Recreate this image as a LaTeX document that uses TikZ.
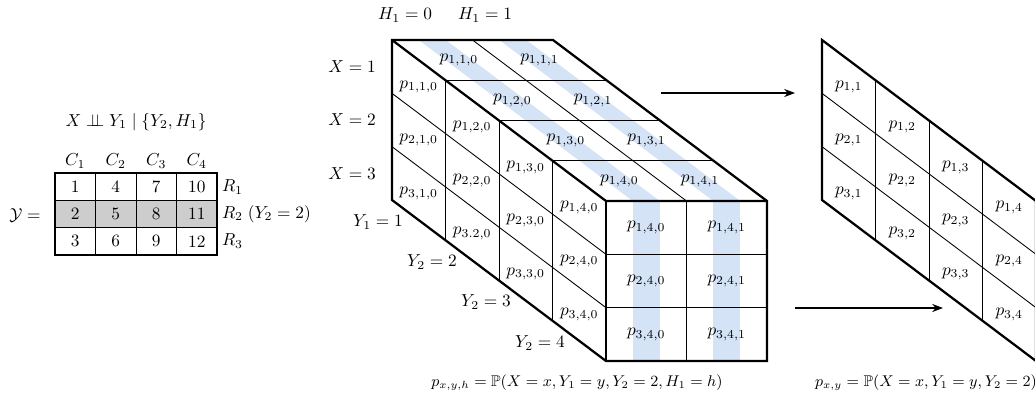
\documentclass[tikz,border=0pt]{standalone}
\usepackage{amsmath,amssymb}
\usetikzlibrary{arrows.meta,positioning}
\definecolor{stripeblue}{RGB}{213,227,247}
\definecolor{rowgray}{RGB}{205,205,205}

\begin{document}
\begin{tikzpicture}[
            x=0.0203cm, y=-0.0203cm,
            edgeline/.style={line width=1.3pt,line join=miter},
            gridline/.style={line width=0.5pt},
            band/.style={fill=stripeblue,draw=none},
            cell/.style={inner sep=0pt},
            tag/.style={inner sep=1pt},
            caption/.style={inner sep=1pt,font=\small},
            arrow/.style={-{Stealth[length=2.2mm]},semithick}
        ]
            \useasboundingbox (0,0) rectangle (1035,400);

            % table of Y
            \node[tag] (indep) at (136,122) {$X \perp\!\!\!\perp Y_1 \mid \{Y_2, H_1\}$};
            \node[tag] (ycal) at (25,215) {$\mathcal{Y} =$};
            \fill[rowgray] (55,200.3) rectangle (217,227.6);
            \foreach \c in {1,...,4} {
                \node[tag] (col\c) at ({55+40.5*(\c-0.5)},161) {$C_\c$};
                \foreach \r in {1,2,3} {
                    \pgfmathtruncatemacro{\v}{3*(\c-1)+\r}
                    \node[cell] (t\r\c) at ({55+40.5*(\c-0.5)},{173+27.3*(\r-0.5)}) {\v};
                }
            }
            \foreach \c in {1,2,3} \draw[gridline] ({55+40.5*\c},173) -- ({55+40.5*\c},255);
            \foreach \r in {1,2} \draw[gridline] (55,{173+27.3*\r}) -- (217,{173+27.3*\r});
            \draw[edgeline] (55,173) rectangle (217,255);
            \node[tag,anchor=west] (row1) at (220,187) {$R_1$};
            \node[tag,anchor=west] (row2) at (220,214) {$R_2\;(Y_2 = 2)$};
            \node[tag,anchor=west] (row3) at (220,241) {$R_3$};

            % cube: stripes
            \foreach \u in {40.25,120.75} {
                \fill[band] ({392+\u-13.5},40) -- ({392+\u+13.5},40) -- ({606+\u+13.5},201) -- ({606+\u-13.5},201) -- cycle;
                \fill[band] ({606+\u-13.5},201) rectangle ({606+\u+13.5},361);
            }
            % cube: inner lines
            \foreach \k in {1,2,3} {
                \draw[gridline] ({392+53.5*\k},{40+40.25*\k}) -- ++(161,0);
                \draw[gridline] ({392+53.5*\k},{40+40.25*\k}) -- ++(0,160);
            }
            \draw[gridline] (472.5,40) -- (686.5,201);
            \draw[gridline] (686.5,201) -- (686.5,361);
            \foreach \j in {1,2} {
                \draw[gridline] (392,{40+53.33*\j}) -- (606,{201+53.33*\j});
                \draw[gridline] (606,{201+53.33*\j}) -- ++(161,0);
            }
            % cube: outline
            \draw[edgeline] (392,40) -- (553,40) -- (767,201) -- (767,361) -- (606,361) -- (392,200) -- cycle;
            \draw[edgeline] (392,40) -- (606,201) -- (767,201);
            \draw[edgeline] (606,201) -- (606,361);

            % cube: cell labels
            \foreach \k in {1,...,4} \foreach \h in {0,1}
                \node[cell] (u\k\h) at ({392+53.5*(\k-0.5)+80.5*(\h+0.5)},{40+40.25*(\k-0.5)}) {$p_{1,\k,\h}$};
            \foreach \j in {1,2,3} {
                \foreach \k in {1,...,4} {
                    \def\idxsep{,}
                    \ifnum\j\k=32 \def\idxsep{.}\fi
                    \node[cell] (s\j\k) at ({392+53.5*(\k-0.5)},{40+40.25*(\k-0.5)+53.33*(\j-0.5)}) {$p_{\j\idxsep\k,0}$};
                }
                \foreach \h in {0,1}
                    \node[cell] (f\j\h) at ({606+80.5*(\h+0.5)},{201+53.33*(\j-0.5)}) {$p_{\j,4,\h}$};
            }

            % cube: axis labels
            \node[tag] (h0) at (405,15) {$H_1 = 0$};
            \node[tag] (h1) at (485,15) {$H_1 = 1$};
            \node[tag] (x1) at (352,67) {$X = 1$};
            \node[tag] (x2) at (352,120) {$X = 2$};
            \node[tag] (x3) at (352,174) {$X = 3$};
            \node[tag] (y1) at (378,222) {$Y_1 = 1$};
            \node[tag] (y2) at (432,262) {$Y_2 = 2$};
            \node[tag] (y3) at (486,302) {$Y_2 = 3$};
            \node[tag] (y4) at (540,343) {$Y_2 = 4$};
            \node[caption] (jointh) at (577,383) {$p_{x,y,h} = \mathbb{P}(X = x, Y_1 = y, Y_2 = 2, H_1 = h)$};

            % marginal sheet
            \foreach \k in {1,2,3} \draw[gridline] ({822+53.5*\k},{40+40.25*\k}) -- ++(0,160);
            \foreach \j in {1,2} \draw[gridline] (822,{40+53.33*\j}) -- (1036,{201+53.33*\j});
            \draw[edgeline] (822,40) -- (822,200) -- (1036,361) -- (1036,201) -- cycle;
            \foreach \j in {1,2,3} \foreach \k in {1,...,4}
                \node[cell] (m\j\k) at ({822+53.5*(\k-0.5)},{40+40.25*(\k-0.5)+53.33*(\j-0.5)}) {$p_{\j,\k}$};
            \node[caption] (joint) at (926,383) {$p_{x,y} = \mathbb{P}(X = x, Y_1 = y, Y_2 = 2)$};

            % arrows
            \coordinate (uppera) at (661,93);
            \coordinate (upperb) at (795,93);
            \coordinate (lowera) at (795,308);
            \coordinate (lowerb) at (943,308);
            \draw[arrow] (uppera) -- (upperb);
            \draw[arrow] (lowera) -- (lowerb);
        \end{tikzpicture}
\end{document}
